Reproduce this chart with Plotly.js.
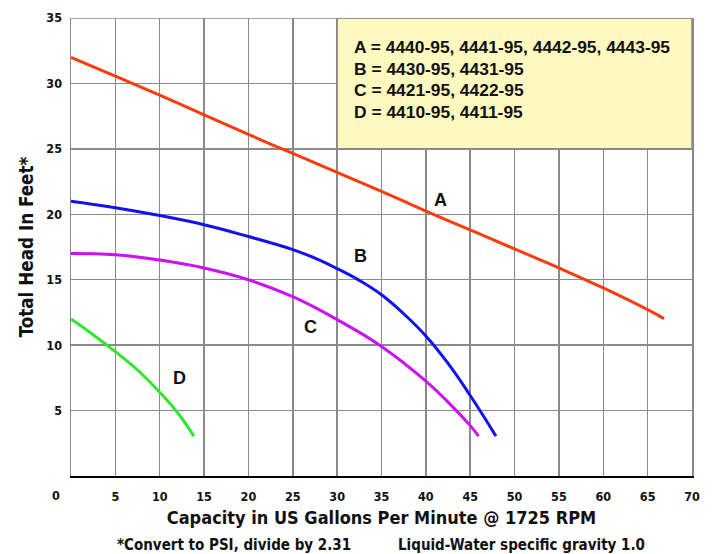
<!DOCTYPE html>
<html>
<head>
<meta charset="utf-8">
<script src="https://cdn.plot.ly/plotly-3.0.1.min.js"></script>
<style>
html,body{margin:0;padding:0;background:#fff;}
#chart{width:715px;height:554px;}
</style>
</head>
<body>
<div id="chart"></div>
<script>
// ---- data ----
const aX = [0, 5, 10, 15, 20, 25, 30, 35, 40, 45, 50, 55, 60, 65, 66.85];
const aY = [32, 30.55, 29.1, 27.6, 26.1, 24.65, 23.2, 21.75, 20.25, 18.8, 17.35, 15.9, 14.37, 12.71, 12.03];

const bX = [0, 5, 10, 15, 20, 25, 27.5, 30, 32.5, 35, 37.5, 40, 42.5, 45, 47.9];
const bY = [21, 20.5, 19.9, 19.2, 18.3, 17.3, 16.65, 15.85, 14.95, 13.85, 12.4, 10.7, 8.6, 6.15, 3.05];

const cX = [0, 5, 10, 15, 20, 25, 30, 35, 40, 42.5, 45, 45.95];
const cY = [17, 16.9, 16.5, 15.9, 15.0, 13.7, 11.95, 9.9, 7.25, 5.65, 3.85, 3.05];

const dX = [0, 2.5, 5, 7.5, 10, 12, 13.85];
const dY = [12, 10.8, 9.5, 8.1, 6.4, 4.85, 3.05];

const curveNames = ["A", "B", "C", "D"];
const curveLabelX = [41.6, 32.6, 27.0, 12.2];
const curveLabelY = [21.1, 16.8, 11.4, 7.5];

const legendLines = [
  "A = 4440-95, 4441-95, 4442-95, 4443-95",
  "B = 4430-95, 4431-95",
  "C = 4421-95, 4422-95",
  "D = 4410-95, 4411-95"
];
const legendLineY = [32.75, 31.12, 29.47, 27.85];

const xTickVals = [0, 5, 10, 15, 20, 25, 30, 35, 40, 45, 50, 55, 60, 65, 70];
const xTickText = ["0", "5", "10", "15", "20", "25", "30", "35", "40", "45", "50", "55", "60", "65", "70"];
const yTickVals = [5, 10, 15, 20, 25, 30, 35];
const yTickText = ["5", "10", "15", "20", "25", "30", "35"];

const xTitle = "Capacity in US Gallons Per Minute @ 1725 RPM";
const yTitle = "Total Head In Feet*";
const footLeft = "*Convert to PSI, divide by 2.31";
const footRight = "Liquid-Water specific gravity 1.0";

// ---- styling ----
const colors = ["#ff3b0f", "#1212ee", "#cc11f2", "#2ee82e"];
const narrow = "'Liberation Sans Narrow', 'DejaVu Sans Condensed', Arial, sans-serif";
const arial = "'Liberation Sans', Arial, Helvetica, sans-serif";
const gridCol = "#8a8a8a";
const txtCol = "#111111";

const series = [[aX, aY], [bX, bY], [cX, cY], [dX, dY]];
const traces = series.map((s, i) => ({
  type: "scatter",
  mode: "lines",
  x: s[0],
  y: s[1],
  name: curveNames[i],
  line: {color: colors[i], width: 3, shape: "spline", smoothing: 1.2},
  hoverinfo: "x+y+name"
}));

const annotations = [];
curveNames.forEach((n, i) => {
  annotations.push({
    x: curveLabelX[i], y: curveLabelY[i], xref: "x", yref: "y",
    text: "<b>" + n + "</b>", showarrow: false,
    font: {family: arial, size: 18, color: txtCol},
    xanchor: "center", yanchor: "middle"
  });
});
legendLines.forEach((t, i) => {
  annotations.push({
    x: 31.7, y: legendLineY[i], xref: "x", yref: "y",
    text: "<b>" + t + "</b>", showarrow: false,
    font: {family: arial, size: 17.4, color: txtCol},
    xanchor: "left", yanchor: "middle"
  });
});
// x tick "0" sits left of the axis in the reference
annotations.push({
  x: xTickVals[0], y: 0, xref: "x", yref: "y",
  text: "<b>" + xTickText[0] + "</b>", showarrow: false,
  font: {family: narrow, size: 12.5, color: txtCol},
  xanchor: "center", yanchor: "middle", xshift: -15, yshift: -19.5
});
annotations.push({
  x: 0.2625, y: 0, xref: "paper", yref: "paper",
  text: "<b>" + footLeft + "</b>", showarrow: false,
  font: {family: narrow, size: 15, color: txtCol},
  xanchor: "center", yanchor: "middle", yshift: -69
});
annotations.push({
  x: 0.726, y: 0, xref: "paper", yref: "paper",
  text: "<b>" + footRight + "</b>", showarrow: false,
  font: {family: narrow, size: 15, color: txtCol},
  xanchor: "center", yanchor: "middle", yshift: -69
});

const layout = {
  width: 715, height: 554,
  margin: {l: 71, r: 23, t: 18, b: 78, pad: 0},
  paper_bgcolor: "#ffffff",
  plot_bgcolor: "#ffffff",
  showlegend: false,
  xaxis: {
    range: [0, 70],
    tickvals: xTickVals.slice(1),
    ticktext: xTickText.slice(1).map(t => "<b>" + t + "</b>"),
    tickfont: {family: narrow, size: 12.5, color: txtCol},
    ticks: "",
    ticklabelstandoff: 8,
    showgrid: true, gridcolor: gridCol, gridwidth: 1.5,
    showline: true, linecolor: "#000", linewidth: 2,
    zeroline: false,
    title: {text: "<b>" + xTitle + "</b>", font: {family: narrow, size: 18, color: txtCol}, standoff: 8},
    fixedrange: true
  },
  yaxis: {
    range: [0, 35],
    tickvals: yTickVals,
    ticktext: yTickText.map(t => "<b>" + t + "</b>"),
    tickfont: {family: narrow, size: 12.5, color: txtCol},
    ticks: "",
    ticklabelstandoff: 5,
    showgrid: true, gridcolor: gridCol, gridwidth: 1.5,
    showline: true, linecolor: gridCol, linewidth: 1.5, mirror: true,
    zeroline: false,
    title: {text: "<b>" + yTitle + "</b>", font: {family: narrow, size: 18.7, color: txtCol}, standoff: 8},
    fixedrange: true
  },
  shapes: [
    {type: "rect", xref: "x", yref: "y", x0: 30, x1: 70, y0: 25, y1: 35,
     fillcolor: "#fff9bf", line: {color: gridCol, width: 1.5}, layer: "above"},
    {type: "line", xref: "x", yref: "y", x0: 0, x1: 70, y0: 35, y1: 35,
     line: {color: gridCol, width: 1.5}, layer: "above"}
  ],
  annotations: annotations
};

Plotly.newPlot("chart", traces, layout, {displayModeBar: false, staticPlot: true});
</script>
</body>
</html>
